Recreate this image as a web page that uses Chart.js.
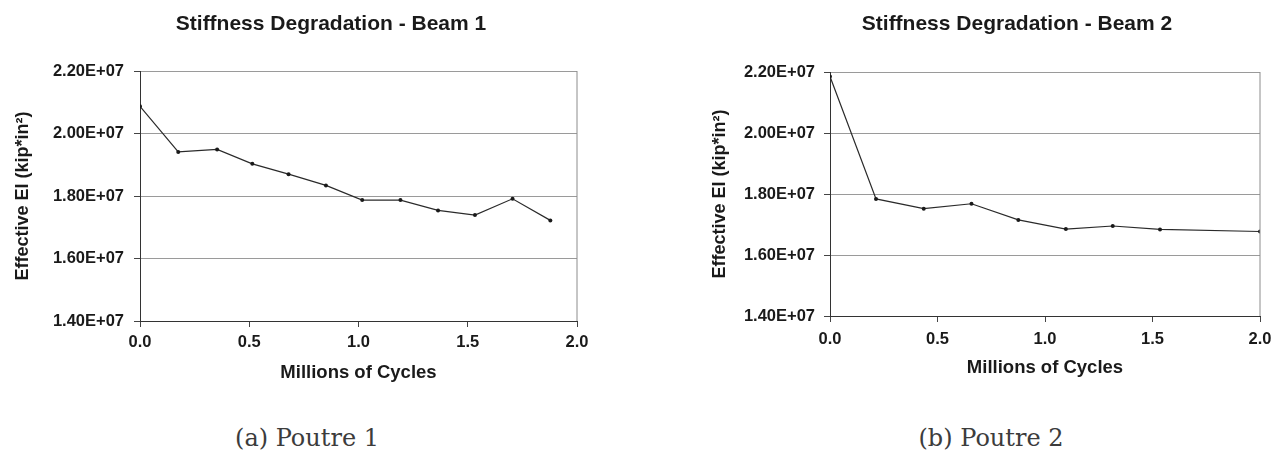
<!DOCTYPE html>
<html>
<head>
<meta charset="utf-8">
<script src="https://cdn.jsdelivr.net/npm/chart.js@4.4.1/dist/chart.umd.min.js"></script>
<style>
  html, body { margin: 0; padding: 0; background: #fff; }
  body { width: 1286px; height: 473px; position: relative; overflow: hidden; }
  .box { position: absolute; top: 0; height: 400px; }
  .ttl { position: absolute; width: 420px; text-align: center; top: 10px;
         font: bold 21px Arial, "Liberation Sans", sans-serif; line-height: 25px; color: #1a1a1a; }
  .cap { position: absolute; width: 300px; text-align: center; top: 423px;
         font: 24px "DejaVu Serif", "Liberation Serif", serif; line-height: 30px; color: #3c3c3c; }
</style>
</head>
<body>
<div class="box" style="left:0;width:600px"><canvas id="c1"></canvas></div>
<div class="box" style="left:677px;width:609px"><canvas id="c2"></canvas></div>
<div class="ttl" style="left:121px">Stiffness Degradation - Beam 1</div>
<div class="ttl" style="left:807px">Stiffness Degradation - Beam 2</div>
<div class="cap" style="left:157px">(a) Poutre 1</div>
<div class="cap" style="left:841px">(b) Poutre 2</div>
<script>
/* data (millions of cycles / effective EI, kip*in^2) */
const beam1Cycles = [0, 0.175, 0.353, 0.514, 0.680, 0.851, 1.017, 1.192, 1.364, 1.533, 1.705, 1.878];
const beam1EI = [2.087e7, 1.941e7, 1.949e7, 1.903e7, 1.870e7, 1.834e7, 1.787e7, 1.787e7, 1.754e7, 1.739e7, 1.791e7, 1.722e7];
const beam2Cycles = [0, 0.214, 0.436, 0.658, 0.876, 1.097, 1.315, 1.535, 2.0];
const beam2EI = [2.185e7, 1.784e7, 1.752e7, 1.768e7, 1.715e7, 1.685e7, 1.695e7, 1.684e7, 1.677e7];

const xTicks = [0, 0.5, 1.0, 1.5, 2.0];
const yTicks = [1.4e7, 1.6e7, 1.8e7, 2.0e7, 2.2e7];
const xTitle = 'Millions of Cycles';
const yTitle = 'Effective EI (kip*in²)';

Chart.defaults.font.family = 'Arial, "Liberation Sans", sans-serif';
Chart.defaults.color = '#1a1a1a';

const fmtE = v => (v / 1e7).toFixed(2) + 'E+07';

/* gray frame on the right side of the plot area */
const frame = {
  id: 'frame',
  afterDraw(chart) {
    const { ctx, chartArea: a } = chart;
    ctx.save();
    ctx.strokeStyle = '#8c8c8c';
    ctx.lineWidth = 1;
    ctx.beginPath();
    ctx.moveTo(a.right, a.top);
    ctx.lineTo(a.right, a.bottom);
    ctx.stroke();
    ctx.restore();
  }
};

const makeChart = (el, xs, ys, g) => {
  const pts = xs.map((x, i) => ({ x, y: ys[i] }));
  return new Chart(el, {
    type: 'line',
    data: {
      datasets: [{
        data: pts,
        borderColor: '#2a2a2a', borderWidth: 1.2,
        pointRadius: 2, pointBackgroundColor: '#1a1a1a', pointBorderColor: '#1a1a1a', pointBorderWidth: 0,
        tension: 0
      }]
    },
    options: {
      responsive: true, maintainAspectRatio: false, animation: false,
      layout: { padding: { top: g.top, right: g.right, left: 0, bottom: 0 } },
      plugins: { legend: { display: false }, tooltip: { enabled: false } },
      scales: {
        x: {
          type: 'linear', min: 0, max: 2,
          afterBuildTicks: s => { s.ticks = xTicks.map(v => ({ value: v })); },
          afterFit: s => { s.height = g.xh; },
          grid: { drawOnChartArea: false, tickLength: 6, tickColor: '#444' },
          border: { color: '#333', width: 1 },
          ticks: { padding: g.xpad, font: { size: 16.5, weight: 'bold' }, callback: v => v.toFixed(1) },
          title: { display: true, text: xTitle, font: { size: 18.5, weight: 'bold' }, padding: { top: 0, bottom: g.xtp } }
        },
        y: {
          type: 'linear', min: 1.4e7, max: 2.2e7,
          afterBuildTicks: s => { s.ticks = yTicks.map(v => ({ value: v })); },
          afterFit: s => { s.width = g.yw; },
          grid: { color: '#9a9a9a', lineWidth: 1, tickLength: 6, tickColor: '#444' },
          border: { color: '#333', width: 1 },
          ticks: { padding: g.ypad, font: { size: 16.5, weight: 'bold' }, callback: v => fmtE(v) },
          title: { display: true, text: yTitle, font: { size: 18, weight: 'bold' }, padding: { top: g.ytp, bottom: 0 } }
        }
      }
    },
    plugins: [frame]
  });
};

makeChart(document.getElementById('c1'), beam1Cycles, beam1EI,
  { top: 71, right: 23, xh: 79, yw: 140, xpad: 6, xtp: 16, ypad: 10, ytp: 12 });
makeChart(document.getElementById('c2'), beam2Cycles, beam2EI,
  { top: 72, right: 26, xh: 84, yw: 153, xpad: 8, xtp: 21, ypad: 9, ytp: 32 });
</script>
</body>
</html>
